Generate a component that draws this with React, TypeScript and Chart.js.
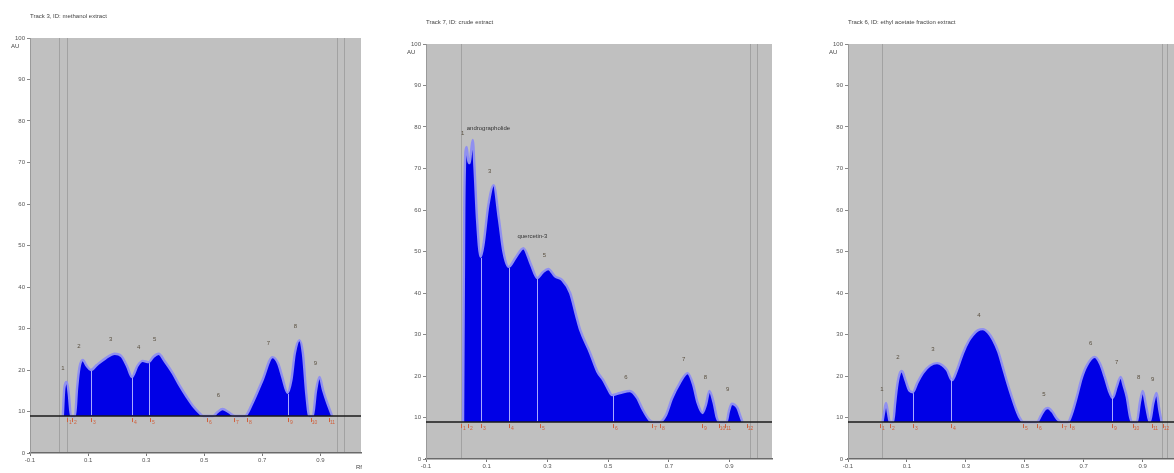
import React, { useEffect, useRef } from "react";
import { Chart, registerables } from "chart.js";

Chart.register(...registerables);

// ---------- shared axis values ----------
const rfTicks = [-0.1, 0.1, 0.3, 0.5, 0.7, 0.9];
const rfMin = -0.1;
const rfMax = 1.04;
const auMin = 0;
const auMax = 100;
const auStep = 10;
const baselineAu = 8.9;

// ---------- Track 1 (left) ----------
const track1Title = "Track 3, ID: methanol extract";
const track1Rf = [0.013, 0.018, 0.027, 0.034, 0.041, 0.055, 0.062, 0.070, 0.082, 0.095, 0.110, 0.130, 0.160, 0.192, 0.215, 0.235, 0.251, 0.270, 0.288, 0.309, 0.325, 0.343, 0.365, 0.391, 0.415, 0.440, 0.465, 0.484, 0.497, 0.530, 0.545, 0.563, 0.585, 0.605, 0.640, 0.666, 0.701, 0.735, 0.755, 0.769, 0.787, 0.800, 0.812, 0.828, 0.840, 0.852, 0.862, 0.874, 0.885, 0.897, 0.910, 0.924, 0.941];
const track1Au = [8.9, 15.5, 17.1, 14.0, 8.9, 8.9, 15.5, 20.5, 22.4, 21.0, 20.0, 21.2, 22.8, 23.9, 23.3, 20.8, 18.3, 21.0, 22.2, 21.9, 23.2, 23.9, 22.0, 19.3, 16.3, 13.5, 11.0, 9.6, 8.9, 8.9, 9.8, 10.6, 9.8, 8.9, 8.9, 12.0, 17.6, 23.1, 21.5, 18.3, 14.5, 17.5, 24.0, 27.2, 24.0, 14.0, 8.9, 8.9, 15.0, 18.3, 15.0, 12.0, 8.9];
const track1PeakLabel = ["1", "2", "3", "4", "5", "6", "7", "8", "9"];
const track1PeakRf = [0.027, 0.082, 0.192, 0.288, 0.343, 0.563, 0.735, 0.828, 0.897];
const track1PeakAu = [17.1, 22.4, 23.9, 22.2, 23.9, 10.6, 23.1, 27.2, 18.3];
const track1BoundRf = [0.027, 0.044, 0.110, 0.251, 0.312, 0.508, 0.604, 0.649, 0.790, 0.869, 0.931];
const track1SplitRf = [0.110, 0.251, 0.309, 0.787];
const track1MarkRf = [0.0, 0.027, 0.958, 0.982];

// ---------- Track 2 (middle) ----------
const track2Title = "Track 7, ID: crude extract";
const track2Rf = [0.022, 0.026, 0.030, 0.034, 0.039, 0.044, 0.049, 0.054, 0.060, 0.068, 0.080, 0.090, 0.105, 0.123, 0.140, 0.155, 0.172, 0.195, 0.221, 0.245, 0.267, 0.285, 0.303, 0.325, 0.349, 0.375, 0.395, 0.408, 0.441, 0.465, 0.484, 0.500, 0.513, 0.539, 0.572, 0.595, 0.615, 0.635, 0.648, 0.670, 0.690, 0.710, 0.736, 0.762, 0.780, 0.795, 0.811, 0.822, 0.834, 0.848, 0.858, 0.867, 0.890, 0.898, 0.907, 0.926, 0.935, 0.943];
const track2Au = [8.9, 60.0, 74.0, 75.2, 72.0, 71.3, 74.5, 76.9, 70.0, 58.0, 48.7, 52.0, 61.0, 66.0, 58.0, 50.0, 46.3, 48.5, 50.8, 47.0, 43.6, 45.0, 45.8, 44.0, 43.1, 40.0, 34.5, 31.1, 25.5, 21.0, 19.0, 16.8, 15.4, 15.9, 16.4, 14.8, 11.8, 9.5, 8.9, 8.9, 10.5, 14.5, 18.3, 20.7, 18.0, 13.5, 11.1, 13.0, 16.4, 13.5, 10.0, 8.9, 8.9, 11.5, 13.3, 12.3, 10.5, 8.9];
const track2PeakLabel = ["1", "andrographolide", "3", "quercetin-3", "5", "6", "7", "8", "9"];
const track2PeakRf = [0.034, 0.054, 0.123, 0.221, 0.303, 0.572, 0.762, 0.834, 0.907];
const track2PeakAu = [75.2, 76.9, 66.0, 50.8, 45.8, 16.4, 20.7, 16.4, 13.3];
const track2BoundRf = [0.015, 0.038, 0.080, 0.175, 0.274, 0.516, 0.644, 0.670, 0.811, 0.867, 0.884, 0.956];
const track2SplitRf = [0.080, 0.172, 0.267, 0.516];
const track2MarkRf = [0.015, 0.966, 0.989];

// ---------- Track 3 (right) ----------
const track3Title = "Track 6, ID: ethyl acetate fraction extract";
const track3Rf = [0.017, 0.023, 0.029, 0.036, 0.042, 0.053, 0.060, 0.066, 0.075, 0.083, 0.095, 0.108, 0.120, 0.135, 0.154, 0.178, 0.202, 0.220, 0.236, 0.253, 0.270, 0.290, 0.310, 0.324, 0.340, 0.358, 0.375, 0.392, 0.410, 0.425, 0.440, 0.456, 0.470, 0.483, 0.495, 0.541, 0.555, 0.567, 0.578, 0.592, 0.610, 0.625, 0.646, 0.660, 0.676, 0.693, 0.710, 0.737, 0.755, 0.771, 0.785, 0.798, 0.812, 0.825, 0.836, 0.846, 0.856, 0.863, 0.880, 0.890, 0.900, 0.912, 0.924, 0.936, 0.947, 0.956, 0.964];
const track3Au = [8.9, 11.5, 13.5, 11.0, 8.9, 8.9, 13.5, 17.3, 20.5, 21.2, 19.0, 16.5, 16.1, 18.3, 20.7, 22.5, 23.1, 22.6, 21.4, 19.0, 21.5, 25.5, 28.5, 29.9, 31.0, 31.3, 30.5, 28.7, 25.8, 22.2, 18.5, 14.9, 12.0, 9.9, 8.9, 8.9, 10.5, 11.9, 12.3, 11.5, 9.6, 8.9, 8.9, 11.0, 14.9, 19.5, 22.5, 24.6, 23.0, 19.8, 16.5, 14.7, 17.5, 19.8, 17.5, 14.9, 10.5, 8.9, 8.9, 13.5, 16.4, 12.5, 8.9, 13.5, 15.9, 12.0, 8.9];
const track3PeakLabel = ["1", "2", "3", "4", "5", "6", "7", "8", "9"];
const track3PeakRf = [0.029, 0.083, 0.202, 0.358, 0.578, 0.737, 0.825, 0.900, 0.947];
const track3PeakAu = [13.5, 21.2, 23.1, 31.3, 12.3, 24.6, 19.8, 16.4, 15.9];
const track3BoundRf = [0.008, 0.042, 0.120, 0.249, 0.493, 0.541, 0.625, 0.653, 0.795, 0.866, 0.931, 0.968];
const track3SplitRf = [0.120, 0.249, 0.795];
const track3MarkRf = [0.015, 0.964, 0.981];

// ---------- layout (kept apart from data) ----------
type Track = {
  title: string;
  rf: number[];
  au: number[];
  peakLabel: string[];
  peakRf: number[];
  peakAu: number[];
  boundRf: number[];
  splitRf: number[];
  markRf: number[];
  left: number;
  width: number;
  padTop: number;
  padRight: number;
  xAxisH: number;
  yAxisW: number;
  showRf: boolean;
};

const tracks: Track[] = [
  { title: track1Title, rf: track1Rf, au: track1Au, peakLabel: track1PeakLabel, peakRf: track1PeakRf, peakAu: track1PeakAu, boundRf: track1BoundRf, splitRf: track1SplitRf, markRf: track1MarkRf, left: 0, width: 390, padTop: 38, padRight: 29, xAxisH: 20, yAxisW: 30, showRf: true },
  { title: track2Title, rf: track2Rf, au: track2Au, peakLabel: track2PeakLabel, peakRf: track2PeakRf, peakAu: track2PeakAu, boundRf: track2BoundRf, splitRf: track2SplitRf, markRf: track2MarkRf, left: 396, width: 390, padTop: 44, padRight: 14, xAxisH: 14, yAxisW: 30, showRf: false },
  { title: track3Title, rf: track3Rf, au: track3Au, peakLabel: track3PeakLabel, peakRf: track3PeakRf, peakAu: track3PeakAu, boundRf: track3BoundRf, splitRf: track3SplitRf, markRf: track3MarkRf, left: 818, width: 380, padTop: 44, padRight: 14, xAxisH: 14, yAxisW: 30, showRf: false },
];

const FONT = '"Liberation Sans", Arial, sans-serif';

function auAt(rf: number[], au: number[], r: number): number {
  for (let i = 0; i < rf.length - 1; i++) {
    if (r >= rf[i] && r <= rf[i + 1]) {
      const f = (r - rf[i]) / (rf[i + 1] - rf[i]);
      return au[i] + f * (au[i + 1] - au[i]);
    }
  }
  return baselineAu;
}

function decorPlugin(t: Track) {
  return {
    id: "decor",
    beforeDraw(chart: any) {
      const { ctx, chartArea: a } = chart;
      const xs = chart.scales.x;
      ctx.save();
      ctx.fillStyle = "#c0c0c0";
      ctx.fillRect(a.left, a.top, a.right - a.left, a.bottom - a.top);
      ctx.strokeStyle = "#a2a2a2";
      ctx.lineWidth = 1;
      t.markRf.forEach((r) => {
        const x = Math.round(xs.getPixelForValue(r)) + 0.5;
        ctx.beginPath();
        ctx.moveTo(x, a.top);
        ctx.lineTo(x, a.bottom);
        ctx.stroke();
      });
      ctx.restore();
    },
    afterDatasetsDraw(chart: any) {
      const { ctx, chartArea: a } = chart;
      const xs = chart.scales.x;
      const ys = chart.scales.y;
      const yb = ys.getPixelForValue(baselineAu);
      ctx.save();
      // split lines inside the filled area
      ctx.strokeStyle = "#a8a8ff";
      ctx.lineWidth = 1;
      t.splitRf.forEach((r) => {
        const x = Math.round(xs.getPixelForValue(r)) + 0.5;
        const yTop = ys.getPixelForValue(auAt(t.rf, t.au, r));
        ctx.beginPath();
        ctx.moveTo(x, yb - 1);
        ctx.lineTo(x, yTop + 1);
        ctx.stroke();
      });
      // boundary marks under baseline
      ctx.fillStyle = "#d0603c";
      ctx.strokeStyle = "#d0603c";
      ctx.font = `5px ${FONT}`;
      ctx.textAlign = "center";
      ctx.textBaseline = "middle";
      t.boundRf.forEach((r, i) => {
        const x = Math.round(xs.getPixelForValue(r)) + 0.5;
        ctx.beginPath();
        ctx.moveTo(x, yb + 2);
        ctx.lineTo(x, yb + 6);
        ctx.stroke();
        ctx.fillText(String(Math.floor(i / 1) + 1), x + 3, yb + 7);
      });
      // peak labels
      ctx.fillStyle = "#5a5040";
      ctx.font = `6px ${FONT}`;
      t.peakLabel.forEach((lab, i) => {
        const x = xs.getPixelForValue(t.peakRf[i]);
        const y = ys.getPixelForValue(t.peakAu[i]);
        if (lab.length > 2) {
          ctx.textAlign = "left";
          ctx.fillStyle = "#333";
          ctx.fillText(lab, x - 6, y - 12);
          ctx.fillStyle = "#5a5040";
        } else {
          ctx.textAlign = "center";
          ctx.fillText(lab, x - 4, y - 14);
        }
      });
      // title, AU, Rf
      ctx.fillStyle = "#444";
      ctx.textAlign = "left";
      ctx.font = `6px ${FONT}`;
      ctx.fillText(t.title, a.left, a.top - 22);
      ctx.fillText("AU", a.left - 19, a.top + 8);
      if (t.showRf) {
        ctx.textAlign = "center";
        ctx.fillText("Rf", a.right - 2, a.bottom + 14);
      }
      ctx.restore();
    },
  };
}

function TrackChart({ t }: { t: Track }) {
  const ref = useRef<HTMLCanvasElement>(null);
  useEffect(() => {
    if (!ref.current) return;
    const chart = new Chart(ref.current, {
      type: "line",
      data: {
        datasets: [
          {
            label: "baseline",
            data: [
              { x: rfMin, y: baselineAu },
              { x: rfMax, y: baselineAu },
            ],
            borderColor: "#1a1a1a",
            borderWidth: 1.6,
            pointRadius: 0,
            fill: false,
            order: 0,
          },
          {
            label: "scan",
            data: t.rf.map((r, i) => ({ x: r, y: t.au[i] })),
            borderColor: "#9090f0",
            borderWidth: 2.4,
            backgroundColor: "#0000e6",
            pointRadius: 0,
            cubicInterpolationMode: "monotone",
            fill: { value: baselineAu },
            order: 1,
          },
        ],
      },
      options: {
        responsive: false,
        animation: false,
        devicePixelRatio: 1,
        layout: { padding: { left: 0, top: t.padTop, right: t.padRight, bottom: 0 } },
        plugins: { legend: { display: false }, tooltip: { enabled: false }, title: { display: false } },
        events: [],
        scales: {
          x: {
            type: "linear",
            min: rfMin,
            max: rfMax,
            afterBuildTicks: (s: any) => {
              s.ticks = rfTicks.map((v) => ({ value: v }));
            },
            afterFit: (s: any) => {
              s.height = t.xAxisH;
            },
            ticks: {
              autoSkip: false,
              maxRotation: 0,
              padding: 1,
              color: "#555",
              font: { size: 6, family: FONT },
              callback: (v: any) => Number(v).toFixed(1),
            },
            grid: { drawOnChartArea: false, drawTicks: true, tickLength: 3, color: "#777" },
            border: { display: true, color: "#6a6a6a", width: 1.5 },
          },
          y: {
            type: "linear",
            min: auMin,
            max: auMax,
            afterFit: (s: any) => {
              s.width = t.yAxisW;
            },
            ticks: {
              stepSize: auStep,
              autoSkip: false,
              padding: 2,
              color: "#555",
              font: { size: 6, family: FONT },
            },
            grid: { drawOnChartArea: false, drawTicks: true, tickLength: 3, color: "#888" },
            border: { display: true, color: "#9a9a9a", width: 1 },
          },
        },
      },
      plugins: [decorPlugin(t)],
    } as any);
    return () => chart.destroy();
  }, [t]);
  return (
    <canvas
      ref={ref}
      width={t.width}
      height={473}
      style={{ position: "absolute", left: t.left, top: 0, width: t.width, height: 473 }}
    />
  );
}

export default function App() {
  return (
    <div
      style={{
        position: "fixed",
        left: 0,
        top: 0,
        width: 1174,
        height: 473,
        overflow: "hidden",
        background: "#ffffff",
      }}
    >
      {tracks.map((t, i) => (
        <TrackChart key={i} t={t} />
      ))}
    </div>
  );
}
